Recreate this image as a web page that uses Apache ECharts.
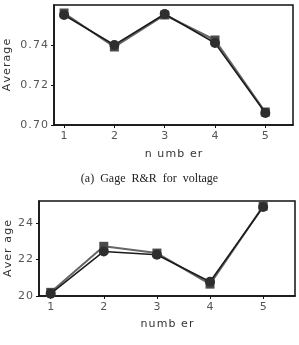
<!DOCTYPE html>
<html>
<head>
<meta charset="utf-8">
<script src="https://cdn.jsdelivr.net/npm/echarts@6/dist/echarts.min.js"></script>
<style>
  html, body { margin: 0; padding: 0; background: #fff; }
  #main { width: 299px; height: 345px; }
</style>
</head>
<body>
<div id="main"></div>
<script>
// x positions (number)
const numbers = [1, 2, 3, 4, 5];

// (a) voltage averages
const voltCircle = [0.755, 0.740, 0.7555, 0.741, 0.706];
const voltSquare = [0.756, 0.739, 0.755, 0.7425, 0.7065];
const voltTicks = [0.70, 0.72, 0.74];

// (b) second chart averages
const lowerCircle = [20.13, 22.44, 22.26, 20.78, 24.87];
const lowerSquare = [20.2, 22.72, 22.35, 20.65, 24.92];
const lowerTicks = [20, 22, 24];

const chart = echarts.init(document.getElementById('main'));

const pair = (xs, ys) => xs.map((x, i) => [x, ys[i]]);
// loose letter spacing like the scanned figure
const spaced = s => s.split('').join('\u200a');

const tickFont = { color: '#555', fontSize: 11, fontFamily: 'DejaVu Sans' };
const nameFont = { color: '#333', fontSize: 11, fontFamily: 'DejaVu Sans' };

const xAxisCommon = {
	type: 'value',
	splitLine: { show: false },
	axisLine: { lineStyle: { color: '#111', width: 1.5 } },
	axisTick: { show: true, length: 3, customValues: numbers, lineStyle: { color: '#111' } },
	axisLabel: Object.assign({ margin: 6, customValues: numbers }, tickFont),
	nameLocation: 'middle',
	nameMoveOverlap: false,
	nameTextStyle: nameFont
};

const yAxisCommon = {
	type: 'value',
	splitLine: { show: false },
	axisLine: { show: true, lineStyle: { color: '#111', width: 1.5 } },
	nameLocation: 'middle',
	nameMoveOverlap: false,
	nameTextStyle: nameFont
};

const circleStyle = {
	type: 'line',
	symbol: 'circle',
	symbolSize: 10,
	lineStyle: { color: '#1a1a1a', width: 1.5 },
	itemStyle: { color: '#2e2e2e' },
	z: 3
};
const squareStyle = {
	type: 'line',
	symbol: 'rect',
	symbolSize: 9,
	lineStyle: { color: '#666', width: 2 },
	itemStyle: { color: '#4a4a4a' },
	z: 2
};

const option = {
	animation: false,
	title: {
		text: '(a)  Gage  R&R  for  voltage',
		left: 'center',
		top: 168,
		textStyle: { fontFamily: 'Liberation Serif', fontWeight: 'normal', fontSize: 12, color: '#222' }
	},
	grid: [
		{ left: 54, top: 5, width: 239, height: 120, show: true, borderColor: '#111', borderWidth: 1.5, outerBoundsMode: 'none' },
		{ left: 39, top: 201, width: 256, height: 95, show: true, borderColor: '#111', borderWidth: 1.5, outerBoundsMode: 'none' }
	],
	xAxis: [
		Object.assign({}, xAxisCommon, { gridIndex: 0, min: 0.8, max: 5.55, name: spaced('n umb er'), nameGap: 24 }),
		Object.assign({}, xAxisCommon, { gridIndex: 1, min: 0.78, max: 5.6, name: spaced('numb er'), nameGap: 23 })
	],
	yAxis: [
		Object.assign({}, yAxisCommon, {
			gridIndex: 0, min: 0.70, max: 0.76, name: spaced('Average'), nameGap: 41,
			axisTick: { show: true, length: 3, customValues: voltTicks, lineStyle: { color: '#111' } },
			axisLabel: Object.assign({ margin: 6, customValues: voltTicks }, tickFont, {
				formatter: v => spaced(v.toFixed(2))
			})
		}),
		Object.assign({}, yAxisCommon, {
			gridIndex: 1, min: 20, max: 25.2, name: spaced('Aver age'), nameGap: 25,
			axisTick: { show: true, length: 3, customValues: lowerTicks, lineStyle: { color: '#111' } },
			axisLabel: Object.assign({ margin: 6, customValues: lowerTicks }, tickFont, {
				formatter: v => spaced(String(v))
			})
		})
	],
	series: [
		Object.assign({}, squareStyle, { xAxisIndex: 0, yAxisIndex: 0, data: pair(numbers, voltSquare) }),
		Object.assign({}, circleStyle, { xAxisIndex: 0, yAxisIndex: 0, data: pair(numbers, voltCircle) }),
		Object.assign({}, squareStyle, { xAxisIndex: 1, yAxisIndex: 1, data: pair(numbers, lowerSquare) }),
		Object.assign({}, circleStyle, { xAxisIndex: 1, yAxisIndex: 1, data: pair(numbers, lowerCircle) })
	]
};

chart.setOption(option);
</script>
</body>
</html>
